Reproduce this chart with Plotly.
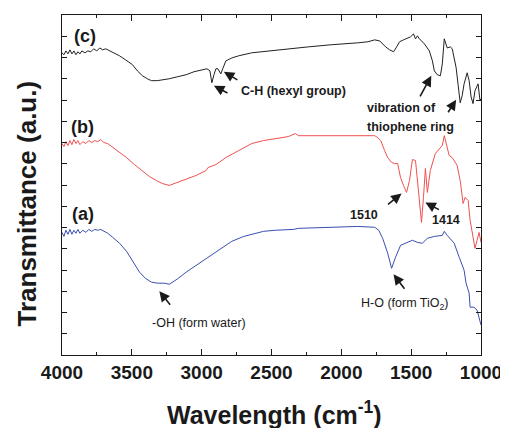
import plotly.graph_objects as go

# ---- data (wavenumber in cm^-1, transmittance in a.u.) ----
wn_c = [4000, 3986, 3972, 3957, 3943, 3929, 3915, 3900, 3886, 3872, 3858, 3836, 3815, 3794, 3773, 3751,
        3730, 3709, 3687, 3659, 3623, 3588, 3545, 3495, 3460, 3424, 3389, 3360, 3318, 3268, 3232, 3175,
        3111, 3055, 2998, 2962, 2941, 2927, 2912, 2898, 2884, 2863, 2849, 2827, 2784, 2735, 2642, 2521,
        2358, 2237, 2073, 1953, 1882, 1810, 1761, 1725, 1683, 1654, 1626, 1604, 1583, 1555, 1526, 1505,
        1483, 1469, 1455, 1441, 1405, 1370, 1348, 1334, 1313, 1291, 1277, 1263, 1242, 1220, 1206, 1178,
        1163, 1149, 1135, 1121, 1099, 1085, 1071, 1057, 1043, 1021, 1007, 1000]
t_c = [14.22, 14.13, 14.31, 14.17, 14.36, 14.17, 14.31, 14.13, 14.27, 14.17, 14.31, 14.22, 14.31, 14.27, 14.41, 14.31,
       14.45, 14.36, 14.41, 14.31, 14.22, 14.08, 13.89, 13.66, 13.37, 13.14, 13.00, 12.91, 12.91, 12.95, 13.00, 13.09,
       13.19, 13.33, 13.42, 13.47, 13.37, 12.81, 13.19, 13.47, 13.47, 13.23, 13.47, 13.84, 13.98, 14.08, 14.22, 14.31,
       14.41, 14.50, 14.60, 14.64, 14.69, 14.74, 14.83, 14.78, 14.50, 14.36, 14.27, 14.50, 14.74, 14.83, 14.92, 14.97,
       15.11, 14.88, 15.02, 14.88, 14.64, 14.31, 13.84, 13.37, 13.19, 13.14, 13.70, 14.88, 14.45, 14.50, 14.41, 13.52,
       12.67, 11.87, 12.20, 12.76, 13.28, 12.91, 12.15, 11.83, 12.44, 12.76, 11.97, 12.06]

wn_b = [4000, 3986, 3972, 3957, 3943, 3929, 3915, 3900, 3886, 3872, 3851, 3829, 3808, 3787, 3765, 3744,
        3723, 3701, 3673, 3645, 3602, 3538, 3481, 3424, 3374, 3325, 3282, 3232, 3175, 3111, 3040, 2969,
        2955, 2898, 2827, 2735, 2642, 2557, 2472, 2379, 2329, 2308, 2166, 2024, 1882, 1761, 1739, 1718,
        1690, 1668, 1640, 1619, 1597, 1576, 1555, 1533, 1512, 1491, 1469, 1448, 1426, 1412, 1398, 1384,
        1363, 1327, 1291, 1277, 1263, 1242, 1228, 1206, 1171, 1149, 1128, 1114, 1092, 1078, 1057, 1043,
        1028, 1014, 1000]
t_b = [9.95, 9.81, 10.04, 9.86, 10.09, 9.90, 10.14, 9.95, 10.09, 9.90, 10.04, 9.95, 10.09, 10.00, 10.09, 10.04,
       10.14, 10.00, 9.95, 9.81, 9.62, 9.29, 8.96, 8.68, 8.40, 8.21, 8.07, 7.98, 8.12, 8.31, 8.45, 8.68,
       8.82, 8.96, 9.29, 9.62, 9.95, 10.09, 10.18, 10.28, 10.42, 10.32, 10.32, 10.32, 10.32, 10.32, 10.23, 10.09,
       9.62, 9.29, 9.06, 9.01, 9.01, 8.35, 7.98, 7.65, 8.21, 9.20, 9.15, 7.74, 6.24, 7.42, 8.78, 7.65,
       8.68, 9.48, 9.76, 9.86, 10.32, 9.71, 9.39, 9.29, 8.92, 8.21, 7.13, 7.42, 7.27, 6.34, 5.63, 5.02,
       5.40, 5.77, 5.30]

wn_a = [4000, 3986, 3972, 3957, 3943, 3929, 3915, 3900, 3886, 3872, 3851, 3829, 3808, 3787, 3765, 3744,
        3723, 3701, 3673, 3638, 3588, 3538, 3488, 3445, 3403, 3360, 3318, 3268, 3232, 3175, 3111, 3040,
        2969, 2877, 2784, 2699, 2642, 2557, 2472, 2344, 2308, 2073, 1882, 1761, 1732, 1704, 1668, 1640,
        1612, 1576, 1526, 1491, 1455, 1420, 1384, 1334, 1277, 1263, 1242, 1192, 1156, 1121, 1107, 1085,
        1078, 1050, 1028, 1007, 1000]
t_a = [5.77, 5.58, 5.87, 5.68, 5.91, 5.68, 5.87, 5.73, 5.91, 5.73, 5.87, 5.77, 5.91, 5.82, 5.91, 5.87,
       5.91, 5.82, 5.73, 5.54, 5.26, 4.88, 4.36, 3.90, 3.61, 3.43, 3.38, 3.38, 3.33, 3.57, 3.90, 4.22,
       4.51, 4.93, 5.35, 5.58, 5.68, 5.82, 5.87, 5.91, 5.96, 6.01, 6.05, 6.01, 5.87, 5.49, 4.79, 4.08,
       4.60, 5.16, 5.30, 5.40, 5.30, 5.26, 5.49, 5.58, 5.63, 5.82, 5.63, 5.26, 4.60, 3.99, 3.38, 2.91,
       2.25, 2.25, 2.11, 1.64, 1.41]

x_ticks = [4000, 3500, 3000, 2500, 2000, 1500, 1000]
x_tick_labels = ["4000", "3500", "3000", "2500", "2000", "1500", "1000"]

FONT = "Liberation Sans, Arial, sans-serif"
INK = "#1a1a1a"

fig = go.Figure()
fig.add_trace(go.Scatter(x=wn_a, y=t_a, mode="lines", line=dict(color="#3a4fae", width=1), hoverinfo="skip"))
fig.add_trace(go.Scatter(x=wn_b, y=t_b, mode="lines", line=dict(color="#f05050", width=1), hoverinfo="skip"))
fig.add_trace(go.Scatter(x=wn_c, y=t_c, mode="lines", line=dict(color="#222222", width=1), hoverinfo="skip"))

ann = []

def label(x, y, text, size=12.5, xanchor="center"):
    ann.append(dict(x=x, y=y, xref="x", yref="y", text=text, showarrow=False,
                    xanchor=xanchor, yanchor="middle",
                    font=dict(family=FONT, size=size, color=INK)))

def arrow(x, y, ax, ay):
    ann.append(dict(x=x, y=y, xref="x", yref="y", text="", showarrow=True,
                    ax=ax, ay=ay, arrowhead=2, arrowsize=1.3, arrowwidth=1.6,
                    arrowcolor=INK, standoff=0, startstandoff=0))

label(3836, 15.02, "<b>(c)</b>", size=18)
label(3851, 10.75, "<b>(b)</b>", size=18)
label(3851, 6.62, "<b>(a)</b>", size=18)

label(2344, 12.44, "<b>C-H (hexyl group)</b>")
arrow(2912, 12.67, 15, 8)
arrow(2841, 13.33, 15, 9)

label(1832, 11.64, "<b>vibration of</b>", xanchor="left")
label(1832, 10.75, "<b>thiophene ring</b>", xanchor="left")
arrow(1356, 13.14, -12, 22)
arrow(1178, 12.01, -9, 14)

label(1839, 6.57, "<b>1510</b>")
arrow(1569, 7.60, -15, 12)
label(1249, 6.34, "<b>1414</b>")
arrow(1398, 7.18, 15, 8)

label(3019, 1.50, "-OH (form water)")
arrow(3303, 3.00, 12, 15)
label(1547, 2.39, "H-O (form TiO<sub>2</sub>)")
arrow(1626, 3.80, 12, 16)

# axis titles
ann.append(dict(x=0.5, y=0, xref="paper", yref="paper", xanchor="center", yanchor="middle",
                xshift=3, yshift=-58, showarrow=False,
                text="<b>Wavelength (cm<sup>-1</sup>)</b>",
                font=dict(family=FONT, size=25, color=INK)))
ann.append(dict(x=0, y=0.475, xref="paper", yref="paper", xanchor="center", yanchor="middle",
                xshift=-36, yshift=-10, showarrow=False, textangle=-90,
                text="<b>Transmittance (a.u.)</b>",
                font=dict(family=FONT, size=26, color=INK)))

# the page body adds an 8px offset, so the figure is 8px smaller on each axis
fig.update_layout(
    width=500, height=420,
    margin=dict(l=54, r=24, t=6, b=73),
    paper_bgcolor="white", plot_bgcolor="white",
    showlegend=False,
    annotations=ann,
    xaxis=dict(range=[4000, 1000], tickvals=x_ticks, ticktext=x_tick_labels,
               ticks="inside", ticklen=6, tickwidth=1.2, tickcolor=INK,
               showline=True, linewidth=1.3, linecolor=INK, mirror="allticks",
               showgrid=False, zeroline=False,
               tickfont=dict(family=FONT, size=19, color=INK, weight="bold"),
               minor=dict(ticks="inside", ticklen=3, tickwidth=1, tickcolor=INK, dtick=250, tick0=1000,
                          showgrid=False)),
    yaxis=dict(range=[0, 16], dtick=1, tick0=0,
               ticks="inside", ticklen=5, tickwidth=1.2, tickcolor=INK,
               showline=True, linewidth=1.3, linecolor=INK, mirror="allticks",
               showgrid=False, zeroline=False, showticklabels=False),
)

fig.write_html("out.html")
